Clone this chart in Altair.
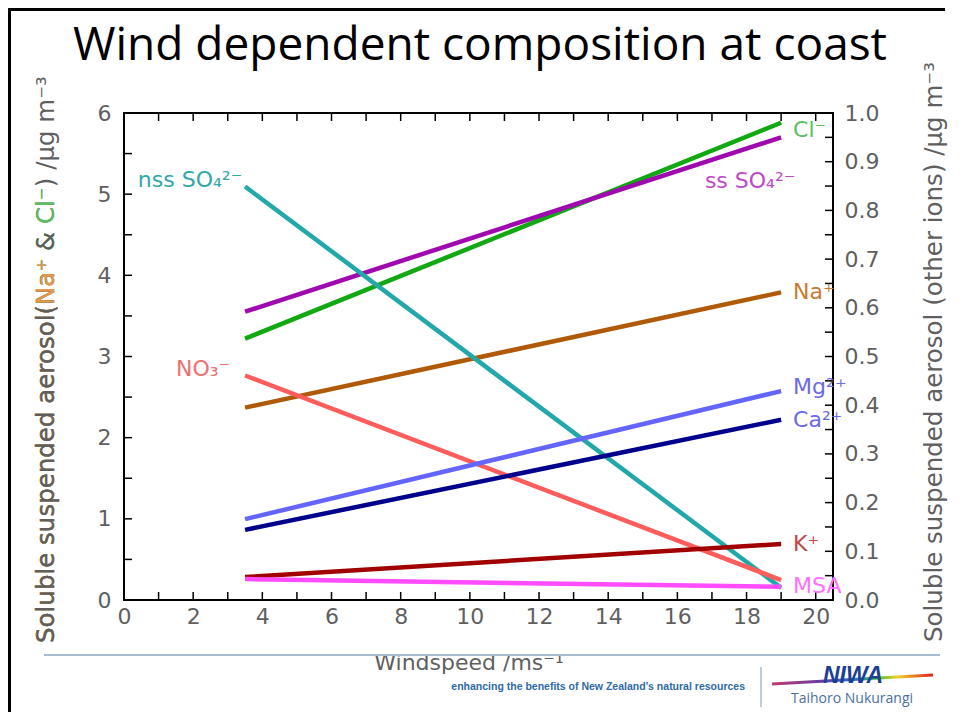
import altair as alt
import pandas as pd

# ---------------- data ----------------
windspeed = [3.5, 19.0]

# left axis (ug m-3)
cl = [3.22, 5.88]
na = [2.37, 3.79]

# right axis (other ions, ug m-3)
ss_so4 = [0.592, 0.950]
nss_so4 = [0.849, 0.025]
no3 = [0.461, 0.041]
mg = [0.166, 0.429]
ca = [0.144, 0.370]
k = [0.047, 0.115]
msa = [0.043, 0.027]

left_names = ["Cl⁻", "Na⁺"]
left_series = [cl, na]
right_names = ["ss SO₄²⁻", "nss SO₄²⁻", "NO₃⁻", "Mg²⁺", "Ca²⁺", "K⁺", "MSA"]
right_series = [ss_so4, nss_so4, no3, mg, ca, k, msa]

x_labels = [0, 2, 4, 6, 8, 10, 12, 14, 16, 18, 20]
x_ticks = list(range(0, 21))
yl_labels = [0, 1, 2, 3, 4, 5, 6]
yl_ticks = [0, 0.5, 1, 1.5, 2, 2.5, 3, 3.5, 4, 4.5, 5, 5.5, 6]
yr_labels = [0, 0.1, 0.2, 0.3, 0.4, 0.5, 0.6, 0.7, 0.8, 0.9, 1.0]
yr_ticks = [round(i * 0.05, 2) for i in range(21)]

# ---------------- styles ----------------
W, H = 709, 487
PL, PT, PR, PB = 116, 105, 115, 112
FONT = "DejaVu Sans"
GRAY = "#5f5f5f"

all_names = left_names + right_names
line_colors = ["#12a812", "#b05a08", "#a008b0", "#22a8a8", "#ff5c5c",
               "#6464ff", "#00008c", "#a00000", "#ff4cff"]
label_colors = ["#5cc05c", "#c87a34", "#c048c8", "#30a8a8", "#f07070",
                "#6a6ae6", "#6a6ae6", "#c04848", "#ff70ff"]
stroke_scale = alt.Scale(domain=all_names, range=line_colors)
fill_scale = alt.Scale(domain=all_names, range=label_colors)

# label offsets (style) keyed by ion: (anchor index, dx, dy, align)
label_style = {
    "Cl⁻": (1, 12, 7, "left"),
    "Na⁺": (1, 12, 0, "left"),
    "ss SO₄²⁻": (1, -31, 44, "center"),
    "nss SO₄²⁻": (0, -55, -7, "center"),
    "NO₃⁻": (0, -42, -6, "center"),
    "Mg²⁺": (1, 12, -4, "left"),
    "Ca²⁺": (1, 12, 0, "left"),
    "K⁺": (1, 12, 0, "left"),
    "MSA": (1, 12, -1, "left"),
}

x_scale = alt.Scale(domain=[0, 20.5], nice=False, zero=False)
yl_scale = alt.Scale(domain=[0, 6], nice=False)
yr_scale = alt.Scale(domain=[0, 1], nice=False)

x_axis = alt.Axis(values=x_labels, title=None, ticks=False, domain=False, grid=False,
                  labelFontSize=22, labelColor=GRAY, labelFont=FONT, labelPadding=6,
                  labelFlush=False, labelOverlap=False)
yl_axis = alt.Axis(values=yl_labels, orient="left", title=None, ticks=False, domain=False,
                   grid=False, labelFontSize=22, labelColor=GRAY, labelFont=FONT,
                   labelPadding=13, labelFlush=False, labelOverlap=False)
yr_axis = alt.Axis(values=yr_labels, orient="right", title=None, ticks=False, domain=False,
                   grid=False, format=".1f", labelFontSize=22, labelColor=GRAY,
                   labelFont=FONT, labelPadding=11, labelFlush=False, labelOverlap=False)


def long_df(names, series):
    rows = []
    for n, s in zip(names, series):
        for xv, yv in zip(windspeed, s):
            rows.append({"ws": xv, "val": yv, "ion": n})
    return pd.DataFrame(rows)


def group(names, series, yscale, yaxis):
    df = long_df(names, series)
    lines = alt.Chart(df).mark_line(strokeWidth=4.5, strokeCap="butt").encode(
        x=alt.X("ws:Q", scale=x_scale, axis=x_axis),
        y=alt.Y("val:Q", scale=yscale, axis=yaxis),
        stroke=alt.Stroke("ion:N", scale=stroke_scale, legend=None),
        detail="ion:N",
    )
    layers = [lines]
    for n, s in zip(names, series):
        idx, dx, dy, align = label_style[n]
        ldf = pd.DataFrame({"ws": [windspeed[idx]], "val": [s[idx]], "ion": [n]})
        layers.append(
            alt.Chart(ldf).mark_text(font=FONT, fontSize=22, align=align,
                                     baseline="middle", dx=dx, dy=dy).encode(
                x=alt.X("ws:Q", scale=x_scale, axis=x_axis),
                y=alt.Y("val:Q", scale=yscale, axis=yaxis),
                text="ion:N",
                fill=alt.Fill("ion:N", scale=fill_scale, legend=None),
            )
        )
    return layers


left_layers = group(left_names, left_series, yl_scale, yl_axis)
right_layers = group(right_names, right_series, yr_scale, yr_axis)

# inward ticks
left_ticks = alt.Chart(pd.DataFrame({"v": yl_ticks})).mark_rule(color="black", strokeWidth=1.5).encode(
    y=alt.Y("v:Q", scale=yl_scale, axis=yl_axis), x=alt.value(0), x2=alt.value(8))
right_ticks = alt.Chart(pd.DataFrame({"v": yr_ticks})).mark_rule(color="black", strokeWidth=1.5).encode(
    y=alt.Y("v:Q", scale=yr_scale, axis=yr_axis), x=alt.value(W - 8), x2=alt.value(W))
bottom_ticks = alt.Chart(pd.DataFrame({"v": x_ticks})).mark_rule(color="black", strokeWidth=1.5).encode(
    x=alt.X("v:Q", scale=x_scale, axis=x_axis), y=alt.value(H - 8), y2=alt.value(H))
top_ticks = alt.Chart(pd.DataFrame({"v": x_ticks})).mark_rule(color="black", strokeWidth=1.5).encode(
    x=alt.X("v:Q", scale=x_scale, axis=x_axis), y=alt.value(0), y2=alt.value(8))

left_group = alt.layer(*left_layers, left_ticks, bottom_ticks, top_ticks)
right_group = alt.layer(*right_layers, right_ticks)

# ---------------- decorations ----------------
one = pd.DataFrame({"d": [0]})


def txt(text, x, y, color=GRAY, size=21, font=FONT, align="center", baseline="middle",
        angle=0, weight="normal", style="normal"):
    return alt.Chart(one).mark_text(text=text, font=font, fontSize=size, color=color,
                                    align=align, baseline=baseline, angle=angle,
                                    fontWeight=weight, fontStyle=style).encode(
        x=alt.value(x), y=alt.value(y))


def hrule(x, x2, y, color, width):
    return alt.Chart(one).mark_rule(color=color, strokeWidth=width).encode(
        x=alt.value(x), x2=alt.value(x2), y=alt.value(y))


def vrule(x, y, y2, color, width):
    return alt.Chart(one).mark_rule(color=color, strokeWidth=width).encode(
        x=alt.value(x), y=alt.value(y), y2=alt.value(y2))


title = txt("Wind dependent composition at coast", 356, -53, color="black", size=46,
            font="Open Sans", baseline="alphabetic")

TS = 24.5
full = "Soluble suspended aerosol(Na⁺ & Cl⁻) /μg m⁻³"
p_green = "Soluble suspended aerosol(Na⁺ & Cl⁻"
p_gray2 = "Soluble suspended aerosol(Na⁺ & "
p_orange = "Soluble suspended aerosol(Na⁺"
p_gray1 = "Soluble suspended aerosol("
LX, LY = -77, 530
left_title = [
    txt(full, LX, LY, size=TS, align="left", angle=270),
    txt(p_green, LX, LY, size=TS, color="#5cc05c", align="left", angle=270),
    txt(p_gray2, LX, LY, size=TS, align="left", angle=270),
    txt(p_orange, LX, LY, size=TS, color="#e89848", align="left", angle=270),
    txt(p_gray1, LX, LY, size=TS, align="left", angle=270),
]
right_title = txt("Soluble suspended aerosol (other ions) /μg m⁻³", 811, 239, size=TS, angle=270)
x_title = txt("Windspeed /ms⁻¹", 345, 550, size=22)

border_top = hrule(-116, W + PR - 3, -103.5, "black", 3)
border_left = vrule(-114.5, -105, H + PB, "black", 3)
divider = hrule(-80, 816, 542, "#a7bccf", 2)
separator = vrule(637, 554, 594, "#a7bccf", 1.5)

footer = txt("enhancing the benefits of New Zealand’s natural resources", 621, 574,
             color="#2e6aa8", size=10.5, font="Liberation Sans", align="right",
             weight="bold")
swoosh = alt.Chart(one).mark_rule(
    strokeWidth=3,
    stroke=alt.Gradient(gradient="linear", x1=0, x2=1, y1=0, y2=0,
                        stops=[alt.GradientStop(offset=0, color="#c03a70"),
                               alt.GradientStop(offset=0.3, color="#6a3aa0"),
                               alt.GradientStop(offset=0.5, color="#2a6ad0"),
                               alt.GradientStop(offset=0.65, color="#40c040"),
                               alt.GradientStop(offset=0.78, color="#f0d020"),
                               alt.GradientStop(offset=1, color="#e02020")])
).encode(x=alt.value(648), x2=alt.value(809), y=alt.value(571), y2=alt.value(562))
niwa = txt("NIWA", 729, 570, color="#1c3f94", size=23, font="Liberation Sans",
           baseline="alphabetic", weight="bold", style="italic")
taihoro = txt("Taihoro Nukurangi", 728, 590, color="#4a6fa5", size=14, font="Open Sans",
              baseline="alphabetic")

chart = alt.layer(
    left_group, right_group,
    title, *left_title, right_title, x_title,
    border_top, border_left, divider, separator, footer, swoosh, niwa, taihoro,
).resolve_scale(y="independent").properties(
    width=W, height=H,
    autosize=alt.AutoSizeParams(type="none"),
    padding={"left": PL, "top": PT, "right": PR, "bottom": PB},
    background="white",
).configure_view(stroke="black", strokeWidth=2)

chart.save("out.html", embed_options={"renderer": "svg", "actions": False})
